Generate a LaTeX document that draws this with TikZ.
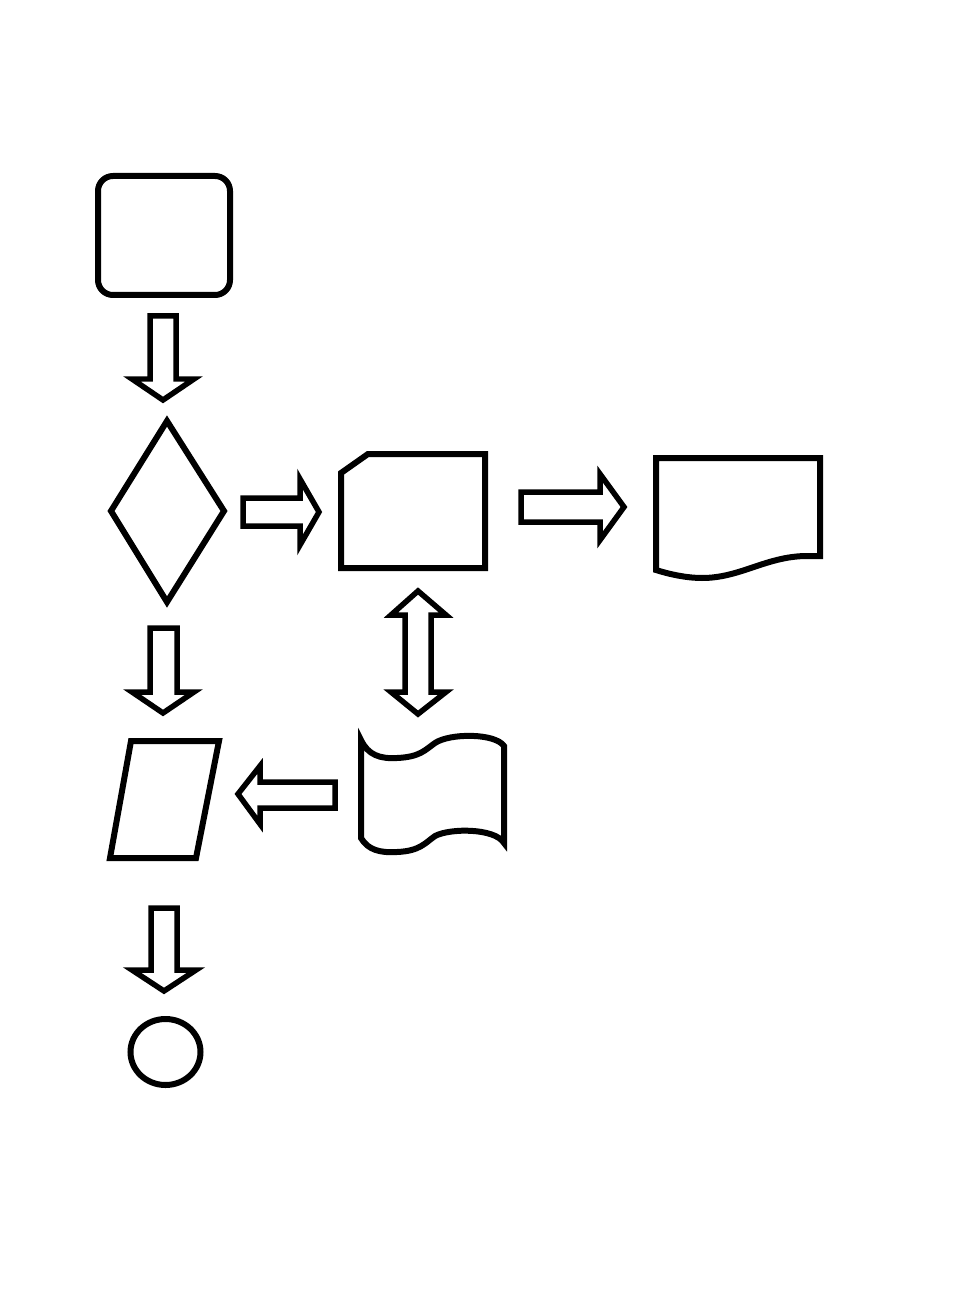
\documentclass[tikz,border=0pt]{standalone}
\usepackage{tikz}

\begin{document}
\begin{tikzpicture}[x=0.02cm,y=-0.02cm,
  shapeline/.style={line width=0.12cm,black,line join=miter},
  blockarrow/.style={line width=0.11cm,black,line join=miter}]
\useasboundingbox[fill=white] (0,0) rectangle (978,1300);
% start box
\draw[shapeline,rounded corners=0.3cm] (98,176) rectangle (230,295);
\draw[blockarrow] (150,316) -- (176,316) -- (176,379) -- (194,379) -- (163,400) -- (132,379) -- (150,379) -- cycle;
% decision
\draw[shapeline] (167,421) -- (224,511) -- (167,602) -- (111,511) -- cycle;
\draw[blockarrow] (243,498) -- (300,498) -- (300,479) -- (319,512) -- (300,545) -- (300,526) -- (243,526) -- cycle;
% card
\draw[shapeline] (341,473) -- (368,454) -- (485,454) -- (485,568) -- (341,568) -- cycle;
\draw[blockarrow] (521,492) -- (600,492) -- (600,474) -- (624,507) -- (600,540) -- (600,522) -- (521,522) -- cycle;
% document
\draw[shapeline] (656,570) -- (656,458) -- (820,458) -- (820,556) -- (805,556) .. controls (765,557) and (740,578) .. (702,578) .. controls (688,578) and (672,575) .. (656,570) -- cycle;
% two-way arrow
\draw[blockarrow] (418,591) -- (446,615) -- (431,615) -- (431,692) -- (446,692) -- (418,714) -- (391,692) -- (405,692) -- (405,615) -- (391,615) -- cycle;
\draw[blockarrow] (150,628) -- (177,628) -- (177,692) -- (194,692) -- (163,713) -- (132,692) -- (150,692) -- cycle;
% data
\draw[shapeline] (131,741) -- (219,741) -- (196,858) -- (110,858) -- cycle;
\draw[blockarrow] (238,794) -- (260,766) -- (260,782) -- (335,782) -- (335,808) -- (260,808) -- (260,824) -- cycle;
% tape
\draw[shapeline] (361,740) .. controls (368,755) and (380,759) .. (397,758) .. controls (420,757) and (425,750) .. (435,743) .. controls (450,733) and (495,733) .. (504,746) -- (504,843) .. controls (495,828) and (450,828) .. (435,836) .. controls (425,843) and (420,851) .. (397,852) .. controls (380,853) and (368,850) .. (361,838) -- cycle;
% end
\draw[blockarrow] (151,908) -- (177,908) -- (177,970) -- (196,970) -- (164,991) -- (132,970) -- (151,970) -- cycle;
\draw[shapeline] (165.5,1052) ellipse [x radius=35, y radius=33];
\end{tikzpicture}
\end{document}
